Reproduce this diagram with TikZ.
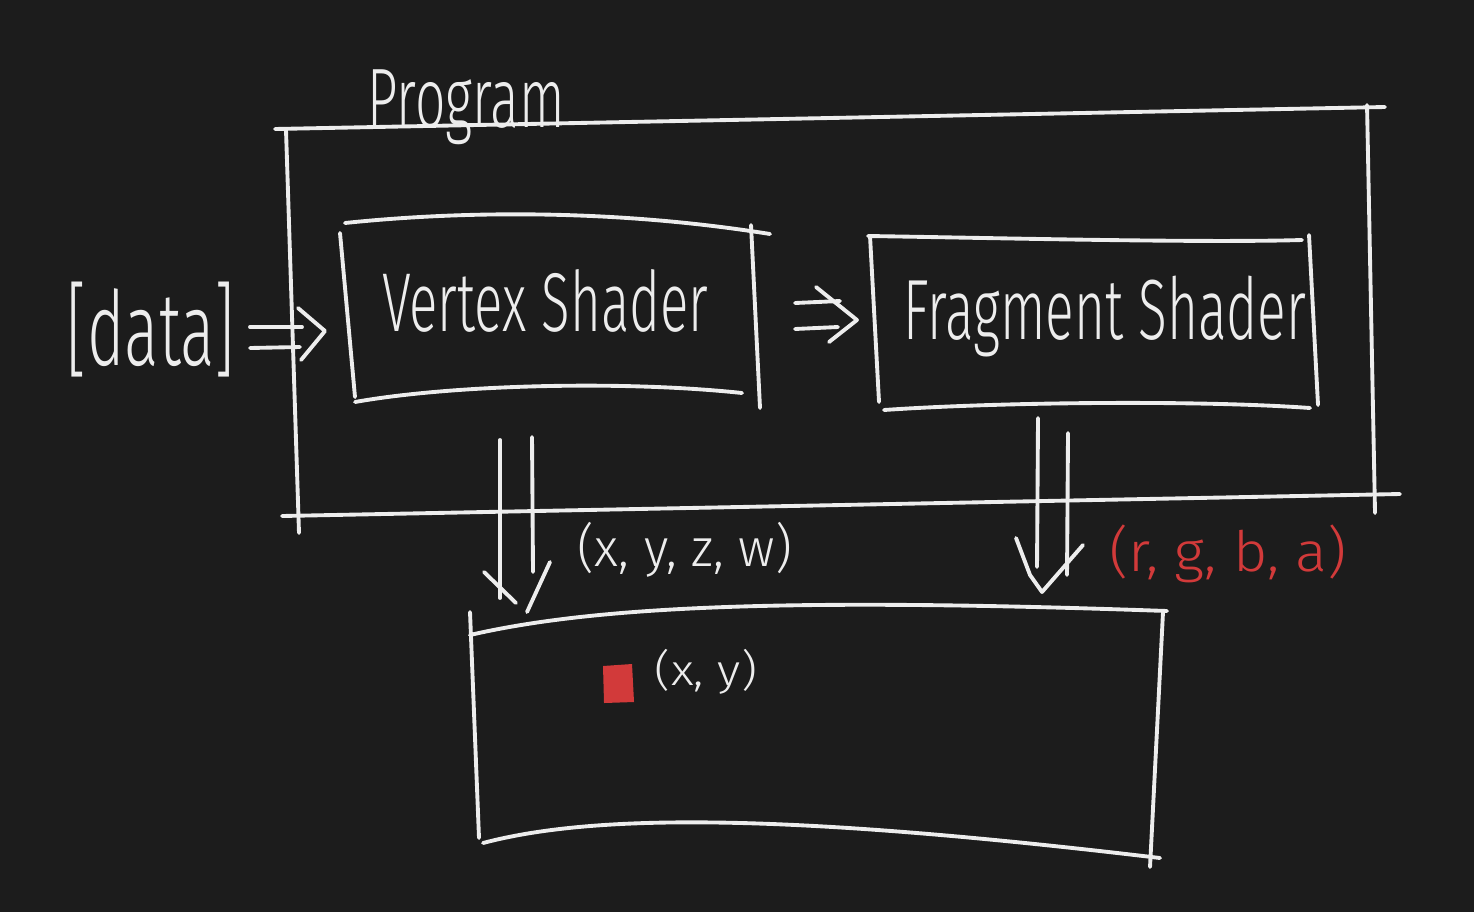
\documentclass[tikz,border=0pt]{standalone}
\usepackage{fontspec}
\setmainfont{Fira Sans}[UprightFont={* Light}]
\usepackage{graphicx}
\definecolor{bg}{HTML}{1C1C1C}
\definecolor{ink}{HTML}{EDEDED}
\definecolor{redink}{HTML}{D23A3A}
\begin{document}
\begin{tikzpicture}[x=0.01cm,y=-0.01cm,
  stroke/.style={draw=ink,line width=1.1pt,line cap=round,line join=round},
  txt/.style={inner sep=0pt,outer sep=0pt,text=ink}]
\fill[bg] (0,0) rectangle (1474,912);
\useasboundingbox (0,0) rectangle (1474,912);

% Program box
\draw[stroke] (275,129) -- (1385,107);
\draw[stroke] (1367,105) -- (1375,513);
\draw[stroke] (282,516) -- (1400,494);
\draw[stroke] (286,130) -- (299,533);

% Vertex shader box
\draw[stroke] (345,223) .. controls (470,210) and (620,210) .. (770,234);
\draw[stroke] (340,233) -- (355,397);
\draw[stroke] (751,225) -- (760,408);
\draw[stroke] (355,402) .. controls (450,385) and (620,380) .. (742,393);

% Fragment shader box
\draw[stroke] (868,236) .. controls (1000,238) and (1200,243) .. (1302,240);
\draw[stroke] (870,236) -- (879,402);
\draw[stroke] (1309,235) -- (1318,405);
\draw[stroke] (884,410) .. controls (1000,402) and (1200,400) .. (1310,408);

% Screen box
\draw[stroke] (470,635) .. controls (600,605) and (800,598) .. (1167,611);
\draw[stroke] (470,612) -- (479,838);
\draw[stroke] (1163,612) -- (1150,867);
\draw[stroke] (483,843) .. controls (600,812) and (800,815) .. (1160,858);

% texts
\node[txt] (program) at (466,107) {\resizebox*{1.97cm}{0.75cm}{Program}};
\node[txt] (data) at (151,330) {\resizebox*{1.68cm}{0.95cm}{[data]}};
\node[txt,anchor=base west] (vs) at (382,331) {\resizebox{3.26cm}{0.62cm}{Vertex Shader}};
\node[txt] (fs) at (1105,316) {\resizebox*{4.02cm}{0.81cm}{Fragment Shader}};
\node[txt] (xyzw) at (685,550) {\resizebox*{2.14cm}{0.55cm}{(x, y, z, w)}};
\node[txt,text=redink] (rgba) at (1228,554) {\resizebox*{2.37cm}{0.58cm}{(r, g, b, a)}};
\node[txt] (xy) at (706,672) {\resizebox*{1.02cm}{0.45cm}{(x, y)}};

% arrow data -> vertex shader
\coordinate (a1s) at (250,327);
\coordinate (a1t) at (325,331);
\draw[stroke] (a1s) -- (302,327);
\draw[stroke] (250,348) -- (300,347);
\draw[stroke] (298,308) -- (a1t) -- (301,360);

% arrow vertex -> fragment
\coordinate (a2t) at (857,320);
\draw[stroke] (795,303) -- (840,301);
\draw[stroke] (795,329) -- (838,327);
\draw[stroke] (816,287) -- (a2t) -- (829,342);

% arrow vertex -> screen
\coordinate (a3t) at (516,603);
\draw[stroke] (500,440) -- (500,598);
\draw[stroke] (532,437) -- (533,572);
\draw[stroke] (484,572) -- (a3t);
\draw[stroke] (550,562) -- (527,612);

% arrow fragment -> screen
\coordinate (a4t) at (1042,592);
\draw[stroke] (1038,418) -- (1037,567);
\draw[stroke] (1068,433) -- (1067,575);
\draw[stroke] (1016,538) -- (1030,575) -- (a4t) -- (1083,545);

% pixel
\fill[redink] (603,666) -- (632,664) -- (634,702) -- (604,703) -- cycle;
\end{tikzpicture}
\end{document}
